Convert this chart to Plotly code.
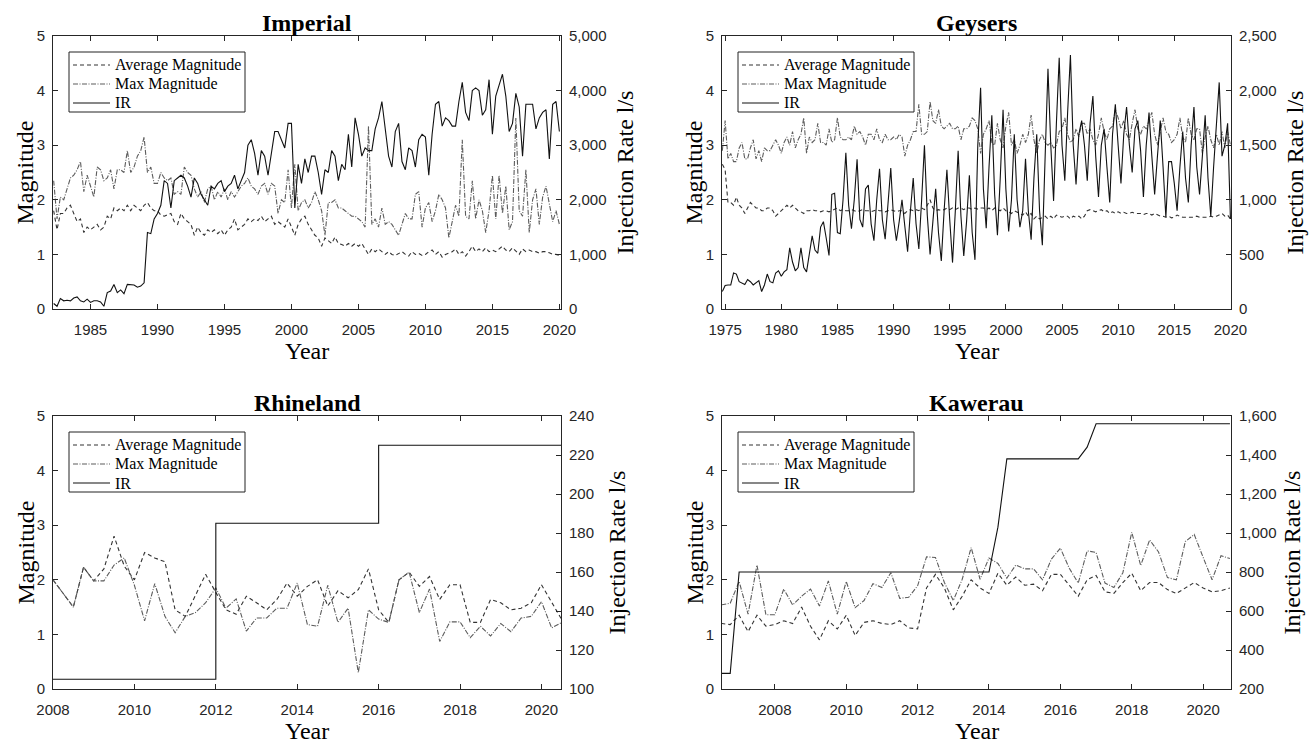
import numpy as np
import plotly.graph_objects as go

# ---------------------------------------------------------------
# Imperial: quarterly series starting 1982 Q2
# ---------------------------------------------------------------
imperial_start = 1982.25
imperial_avg = [
    1.8, 1.45, 1.75,
    1.75, 1.85, 1.9, 1.75,
    1.6, 1.65, 1.4, 1.5,
    1.45, 1.5, 1.55, 1.45,
    1.5, 1.7, 1.65, 1.85,
    1.8, 1.85, 1.8, 1.9,
    1.8, 1.9, 1.85, 1.8,
    1.9, 1.95, 1.85, 1.8,
    1.8, 1.72, 1.7, 1.72,
    1.75, 1.6, 1.55, 1.75,
    1.65, 1.6, 1.55, 1.35,
    1.5, 1.4, 1.35, 1.45,
    1.4, 1.45, 1.38, 1.45,
    1.35, 1.45, 1.5, 1.65,
    1.45, 1.5, 1.55, 1.65,
    1.6, 1.65, 1.62, 1.7,
    1.6, 1.65, 1.7, 1.55,
    1.6, 1.55, 1.5, 1.65,
    1.5, 1.35, 1.55, 1.65,
    1.7, 1.55, 1.45, 1.35,
    1.3, 1.15, 1.3, 1.25,
    1.2, 1.32, 1.2, 1.18,
    1.15, 1.2, 1.15, 1.2,
    1.15, 1.2, 1.1, 1.0,
    1.1, 1.05, 1.1, 1.05,
    1.0, 1.05, 1.0, 0.98,
    1.02, 1.05, 1.0, 0.97,
    1.05, 1.0, 1.02, 0.98,
    1.0, 1.05, 1.08, 1.0,
    1.05, 0.95, 1.0, 1.02,
    1.05, 1.1, 1.0, 1.05,
    0.97, 1.05, 1.15, 1.05,
    1.1, 1.05, 1.12, 1.05,
    1.08, 1.05, 1.1, 1.15,
    1.08, 1.05, 1.12, 1.05,
    1.0, 1.1, 1.05, 1.08,
    1.05, 1.05, 1.02, 1.05,
    1.05, 1.03, 1.0, 1.0,
    0.98,
]
imperial_max = [
    2.35, 1.65, 2.05,
    2.0, 2.2, 2.4, 2.45,
    2.55, 2.7, 2.15, 2.45,
    2.25, 2.05, 2.6, 2.55,
    2.35, 2.4, 2.55, 2.2,
    2.55, 2.55, 2.5, 2.9,
    2.5, 2.6, 2.8, 2.9,
    3.15, 2.5, 2.6, 2.3,
    2.3, 2.5, 2.4, 2.35,
    2.4, 2.1, 2.15, 2.1,
    2.6, 2.5, 2.45, 2.2,
    2.05, 2.15, 1.95, 2.2,
    2.25, 2.0, 2.15, 2.05,
    2.2, 2.0, 2.15, 2.05,
    2.15, 2.25, 2.3, 2.4,
    2.25, 2.2, 2.1, 2.25,
    2.3, 2.1, 2.3, 2.25,
    1.75, 2.0, 1.95, 2.55,
    1.85, 2.65, 1.8, 1.95,
    2.0, 1.85, 1.95, 2.15,
    2.0, 1.8, 1.35, 1.95,
    1.95, 2.0, 1.85, 1.85,
    1.8, 1.75, 1.7, 1.7,
    1.65, 1.6, 1.5, 3.35,
    1.55, 1.65, 1.5, 1.85,
    1.55, 1.6, 1.55, 1.45,
    1.35, 1.55, 1.75, 1.65,
    1.65, 2.1, 2.15, 1.5,
    1.85, 1.95, 1.6, 1.8,
    2.1, 2.0, 1.85, 1.3,
    1.6, 1.9, 1.7, 3.1,
    1.7, 1.65, 2.35, 1.65,
    2.0, 1.8, 1.4, 1.8,
    2.45, 1.65, 2.45, 1.75,
    2.25, 1.45, 1.6, 3.5,
    1.8, 1.7, 2.55, 1.4,
    2.0, 2.2, 1.55, 2.05,
    2.25, 1.9, 1.6, 1.8,
    1.55,
]
imperial_ir = [
    100, 50, 190,
    150, 160, 150, 200,
    220, 150, 130, 180,
    120, 150, 150, 130,
    50, 300, 330, 450,
    300, 350, 280, 450,
    450, 440, 400, 420,
    480, 1400, 1380, 1650,
    1750, 1900, 2350, 2300,
    1850, 2350, 2400, 2450,
    2400, 2250, 2050, 2400,
    2300, 2100, 2000, 1900,
    2250, 2200, 2300, 2350,
    2150, 2250, 2300, 2450,
    2200, 2350, 2500, 3000,
    3100, 2850, 2450, 2900,
    2800, 2450, 2850, 3250,
    3250, 3100, 2950, 3400,
    3400, 1850, 2650, 2300,
    2750, 2500, 2800, 2800,
    2500, 2100, 2550, 2500,
    2900, 2800, 2350, 2650,
    2550, 3200, 2600, 3500,
    3200, 2800, 2950, 2900,
    2900, 3300, 3500, 3800,
    3300, 2800, 2600, 3250,
    3400, 2700, 2550, 2950,
    2900, 2600, 3100, 3200,
    3150, 2450, 3200, 3750,
    3800, 3350, 3500, 3450,
    3350, 3350, 3800, 4150,
    3600, 3450, 4000, 4050,
    4000, 3550, 3650, 4200,
    3200, 3900, 4100, 4300,
    3900, 3250, 3400, 3950,
    3700, 2800, 3750, 3750,
    3750, 3300, 3500, 3600,
    3650, 2750, 3750, 3800,
    3250,
]

# ---------------------------------------------------------------
# Geysers: quarterly series starting 1974 Q4
# ---------------------------------------------------------------
geysers_start = 1974.75
geysers_avg = [
    2.65,
    2.55, 1.95, 1.95, 1.9,
    2.05, 1.9, 1.85, 1.75,
    1.85, 1.95, 1.9, 1.85,
    1.85, 1.8, 1.8, 1.85,
    1.85, 1.8, 1.7, 1.75,
    1.8, 1.85, 1.9, 1.85,
    1.9, 1.85, 1.8, 1.78,
    1.75, 1.8, 1.8, 1.82,
    1.8, 1.8, 1.78, 1.8,
    1.8, 1.78, 1.8, 1.82,
    1.85, 1.8, 1.82, 1.8,
    1.8, 1.82, 1.8, 1.78,
    1.8, 1.82, 1.8, 1.8,
    1.78, 1.8, 1.82, 1.8,
    1.8, 1.78, 1.8, 1.82,
    1.8, 1.78, 1.8, 1.8,
    1.75, 1.8, 1.82, 1.8,
    1.82, 1.8, 1.85, 1.82,
    1.9, 2.0, 1.85, 1.8,
    1.82, 1.8, 1.82, 1.85,
    1.82, 1.85, 1.82, 1.85,
    1.85, 1.82, 1.85, 1.85,
    1.82, 1.85, 1.83, 1.85,
    1.85, 1.82, 1.85, 1.8,
    1.85, 1.82, 1.8, 1.85,
    1.8, 1.78, 1.75, 1.8,
    1.78, 1.75, 1.72, 1.78,
    1.7, 1.75, 1.65, 1.7,
    1.65, 1.68, 1.7, 1.65,
    1.7, 1.65, 1.72, 1.7,
    1.68, 1.7, 1.7, 1.65,
    1.7, 1.68, 1.7, 1.65,
    1.7, 1.8, 1.82, 1.8,
    1.78, 1.8, 1.82, 1.78,
    1.8, 1.75, 1.78, 1.75,
    1.78, 1.75, 1.77, 1.75,
    1.75, 1.77, 1.75, 1.75,
    1.75, 1.73, 1.75, 1.75,
    1.72, 1.75, 1.72, 1.7,
    1.7, 1.68, 1.7, 1.67,
    1.68, 1.72, 1.7, 1.68,
    1.68, 1.68, 1.68, 1.68,
    1.7, 1.68, 1.68, 1.68,
    1.68, 1.7, 1.68, 1.7,
    1.72, 1.75, 1.7, 1.72,
    1.65,
]
geysers_max = [
    2.9,
    3.45, 2.75, 2.85, 2.7,
    2.7, 2.95, 3.05, 2.75,
    2.75, 2.95, 3.1, 2.75,
    2.9, 2.7, 2.95, 2.9,
    2.9, 3.0, 3.1, 3.0,
    2.85, 3.05, 3.15, 3.0,
    3.25, 2.95, 3.1, 3.2,
    3.5, 2.85, 3.15, 3.05,
    3.1, 3.4, 3.05, 3.05,
    3.0, 3.3, 3.05, 3.1,
    3.5, 3.15, 3.1, 3.1,
    3.15, 3.1, 3.35, 3.2,
    3.25, 3.15, 3.0, 3.2,
    3.2, 3.1, 3.3, 3.1,
    3.05, 3.2, 3.1, 3.1,
    3.15, 3.1, 3.2, 3.15,
    2.8, 3.0, 3.1, 3.25,
    3.25, 3.75, 3.2, 3.2,
    3.25, 3.8, 3.45, 3.4,
    3.65, 3.35, 3.3, 3.35,
    3.4, 3.3, 3.3, 3.35,
    3.1, 3.3, 3.3, 3.35,
    3.5, 3.45, 3.3, 2.85,
    3.2, 3.3, 3.45, 3.05,
    3.0, 3.4, 3.1, 2.95,
    3.35, 3.6, 3.0, 3.1,
    2.85, 3.0, 3.2, 3.05,
    3.2, 3.55, 3.1, 2.85,
    3.1, 3.2, 3.05, 3.0,
    3.05, 2.95, 3.0, 3.25,
    3.3, 3.5, 3.2, 3.05,
    3.1, 3.3, 3.15, 3.4,
    3.4, 3.2, 3.3, 3.1,
    3.0, 3.2, 3.5, 3.25,
    3.1, 3.3, 3.35, 3.65,
    3.5, 3.3, 3.45, 3.2,
    3.1, 3.4, 3.65, 3.3,
    3.2, 3.35, 3.3, 3.45,
    3.6, 3.2, 3.0, 3.25,
    3.5, 3.25, 3.2, 3.05,
    3.1, 3.2, 3.5, 3.15,
    3.05, 3.5, 3.2, 3.1,
    3.3, 3.3, 2.85, 3.15,
    3.35, 3.1, 2.95, 3.2,
    3.0, 3.25, 2.95, 3.25,
    3.0,
]
geysers_ir = [
    160,
    215, 220, 220, 330,
    320, 250, 240, 225,
    270, 250, 220, 240,
    260, 160, 220, 320,
    250, 240, 330, 350,
    300, 340, 360, 560,
    430, 350, 380, 560,
    380, 340, 530, 670,
    540, 510, 750, 800,
    650, 490, 1050, 1060,
    700, 690, 1000, 1430,
    950, 735, 1000, 1370,
    820, 750, 1100, 1135,
    780, 625, 1000, 1285,
    820, 640, 960, 1290,
    820, 625, 800, 1000,
    760, 525, 900, 1200,
    780, 550, 1000, 1500,
    860, 500, 800, 1100,
    700, 440, 900, 1275,
    820, 425, 900, 1450,
    850, 485, 800, 1225,
    700, 450, 1500, 2025,
    1100, 740, 1300, 1775,
    1050, 675, 1200, 1825,
    1100, 710, 1000, 1600,
    1000, 750, 900, 1375,
    900, 635, 1200, 1600,
    900, 585, 1400, 2200,
    1500, 990, 1700, 2300,
    1500, 1175, 1800, 2325,
    1500, 1140, 1600, 1725,
    1500, 1175, 1700, 1950,
    1400, 1025, 1500, 1650,
    1300, 975, 1600, 1875,
    1500, 1150, 1600, 1850,
    1500, 1250, 1650, 1725,
    1450, 1025, 1500, 1800,
    1400, 1050, 1400, 1725,
    1300, 840, 1350, 1350,
    1150, 900, 1300, 1625,
    1200, 975, 1500, 1850,
    1300, 1050, 1400, 1775,
    1200, 850, 1300, 1700,
    2075, 1400, 1500, 1700,
    825,
]

# ---------------------------------------------------------------
# Rhineland: quarterly series starting 2008 Q1
# ---------------------------------------------------------------
rhineland_start = 2008.0
rhineland_avg = [
    2.0, 1.75, 1.5, 2.23,
    1.98, 2.2, 2.8, 2.25,
    2.0, 2.5, 2.4, 2.33,
    1.45, 1.33, 1.7, 2.1,
    1.77, 1.45, 1.37, 1.7,
    1.58, 1.45, 1.64, 1.94,
    1.7, 1.88, 2.0, 1.52,
    1.8, 1.67, 1.82, 2.2,
    1.45, 1.22, 2.0, 2.14,
    1.88, 2.06, 1.64, 1.91,
    1.91, 1.22, 1.22, 1.64,
    1.58, 1.45, 1.48, 1.58,
    1.91, 1.58, 1.27,
]
rhineland_max = [
    2.0, 1.75, 1.5, 2.23,
    1.98, 1.98, 2.27, 2.4,
    1.9, 1.25, 1.93, 1.33,
    1.03, 1.33, 1.4, 1.58,
    1.85, 1.48, 1.65, 1.06,
    1.3, 1.3, 1.48, 1.48,
    1.94, 1.18, 1.15, 1.9,
    1.22, 1.48, 0.3, 1.45,
    1.28, 1.22, 2.0, 2.14,
    1.4, 1.83, 0.87, 1.23,
    1.23, 0.94, 1.15, 0.97,
    1.2, 1.05, 1.3, 1.33,
    1.6, 1.12, 1.22,
]
# injection rate changes stepwise
rhineland_ir_years = [2008.0, 2012.0, 2016.0, 2020.5]
rhineland_ir = [105, 185, 225, 225]

# ---------------------------------------------------------------
# Kawerau: quarterly series starting 2006 Q3
# ---------------------------------------------------------------
kawerau_start = 2006.5
kawerau_avg = [
    1.2, 1.18,
    1.35, 1.05, 1.35, 1.15,
    1.18, 1.25, 1.2, 1.5,
    1.15, 0.9, 1.25, 1.1,
    1.35, 0.98, 1.22, 1.25,
    1.2, 1.18, 1.25, 1.12,
    1.1, 1.85, 2.1, 1.85,
    1.45, 1.7, 2.0, 1.85,
    1.75, 2.12, 1.9, 2.05,
    1.9, 1.92, 1.8, 2.1,
    2.1, 1.9, 1.7, 2.0,
    2.08, 1.78, 1.75, 1.95,
    2.12, 1.8, 1.95, 1.95,
    1.82, 1.75, 1.85, 1.95,
    1.85, 1.78, 1.8, 1.85,
]
kawerau_max = [
    1.54, 1.57,
    1.97, 1.37, 2.27, 1.36,
    1.36, 1.83, 1.54, 1.7,
    1.83, 1.52, 1.98, 1.37,
    1.97, 1.49, 1.62, 1.93,
    1.86, 2.13, 1.66, 1.68,
    1.89, 2.42, 2.41, 1.95,
    1.62, 2.01, 2.59, 2.01,
    2.4, 2.3, 2.03, 2.27,
    2.2, 2.2, 2.0, 2.38,
    2.58, 2.21, 1.94, 2.53,
    2.5, 1.94, 1.86, 2.13,
    2.87, 2.26, 2.73, 2.51,
    2.04, 2.0, 2.7, 2.83,
    2.41, 2.0, 2.44, 2.39,
]
kawerau_ir = [
    280, 280,
    800, 800, 800, 800,
    800, 800, 800, 800,
    800, 800, 800, 800,
    800, 800, 800, 800,
    800, 800, 800, 800,
    800, 800, 800, 800,
    800, 800, 800, 800,
    800, 1030, 1380, 1380,
    1380, 1380, 1380, 1380,
    1380, 1380, 1380, 1440,
    1560, 1560, 1560, 1560,
    1560, 1560, 1560, 1560,
    1560, 1560, 1560, 1560,
    1560, 1560, 1560, 1560,
]

legend_labels = ["Average Magnitude", "Max Magnitude", "IR"]

# ---------------------------------------------------------------
# Layout geometry and styles
# ---------------------------------------------------------------
W, H = 1310, 744
COL_X = [(53, 561), (722, 1231)]      # plot-area left/right edges (px)
ROW_Y = [(36, 309), (416, 689)]       # plot-area top/bottom edges (px)

AXIS_COLOR = "#262626"
TICK_FONT = dict(family="Liberation Sans, Arial, sans-serif", size=15, color=AXIS_COLOR)
SERIF = "Liberation Serif, Times New Roman, serif"

AVG_STYLE = dict(color="#333333", width=1.1, dash="4px,3px")
MAX_STYLE = dict(color="#5c5c5c", width=1.1, dash="5px,1.5px,1px,1.5px")
IR_STYLE = dict(color="#111111", width=1.1)
LINE_STYLES = [AVG_STYLE, MAX_STYLE, IR_STYLE]


def quarters(start, values):
    return start + 0.25 * np.arange(len(values))


def px(x):
    return x / W


def py(y):
    return 1 - y / H


panels = [
    dict(title="Imperial", col=0, row=0,
         x_range=[1982.2, 2020.12], x_ticks=list(range(1985, 2021, 5)),
         y2_range=[0, 5000], y2_ticks=list(range(0, 5001, 1000)),
         avg=(quarters(imperial_start, imperial_avg), imperial_avg),
         mx=(quarters(imperial_start, imperial_max), imperial_max),
         ir=(quarters(imperial_start, imperial_ir), imperial_ir), ir_shape="linear",
         y2_title_dx=64),
    dict(title="Geysers", col=1, row=0,
         x_range=[1974.72, 2020.05], x_ticks=list(range(1975, 2021, 5)),
         y2_range=[0, 2500], y2_ticks=list(range(0, 2501, 500)),
         avg=(quarters(geysers_start, geysers_avg), geysers_avg),
         mx=(quarters(geysers_start, geysers_max), geysers_max),
         ir=(quarters(geysers_start, geysers_ir), geysers_ir), ir_shape="linear",
         y2_title_dx=64),
    dict(title="Rhineland", col=0, row=1,
         x_range=[2008.0, 2020.48], x_ticks=list(range(2008, 2021, 2)),
         y2_range=[100, 240], y2_ticks=list(range(100, 241, 20)),
         avg=(quarters(rhineland_start, rhineland_avg), rhineland_avg),
         mx=(quarters(rhineland_start, rhineland_max), rhineland_max),
         ir=(rhineland_ir_years, rhineland_ir), ir_shape="hv",
         y2_title_dx=55),
    dict(title="Kawerau", col=1, row=1,
         x_range=[2006.52, 2020.78], x_ticks=list(range(2008, 2021, 2)),
         y2_range=[200, 1600], y2_ticks=list(range(200, 1601, 200)),
         avg=(quarters(kawerau_start, kawerau_avg), kawerau_avg),
         mx=(quarters(kawerau_start, kawerau_max), kawerau_max),
         ir=(quarters(kawerau_start, kawerau_ir), kawerau_ir), ir_shape="linear",
         y2_title_dx=60),
]

fig = go.Figure()
layout = dict(
    width=W, height=H,
    margin=dict(l=0, r=0, t=0, b=0, autoexpand=False),
    paper_bgcolor="white", plot_bgcolor="white",
    showlegend=False,
)
annotations = []
shapes = []

common_axis = dict(
    showline=True, linecolor=AXIS_COLOR, linewidth=1,
    ticks="inside", ticklen=5, tickcolor=AXIS_COLOR, tickwidth=1,
    showgrid=False, zeroline=False, tickfont=TICK_FONT, automargin=False,
)

for i, p in enumerate(panels):
    n = i + 1
    xl, xr = COL_X[p["col"]]
    yt, yb = ROW_Y[p["row"]]
    xa, ya, ya2 = f"x{n}", f"y{n}", f"y{n + 4}"

    layout[f"xaxis{n}"] = dict(
        common_axis, domain=[px(xl), px(xr)], anchor=ya, range=p["x_range"],
        tickvals=p["x_ticks"], mirror="ticks", ticklabelstandoff=7,
    )
    layout[f"yaxis{n}"] = dict(
        common_axis, domain=[py(yb), py(yt)], anchor=xa, range=[0, 5],
        tickvals=[0, 1, 2, 3, 4, 5], ticklabelstandoff=4,
    )
    layout[f"yaxis{n + 4}"] = dict(
        common_axis, overlaying=ya, anchor=xa, side="right", range=p["y2_range"],
        tickvals=p["y2_ticks"], tickformat=",d", ticklabelstandoff=4,
    )

    fig.add_trace(go.Scatter(
        x=p["avg"][0], y=p["avg"][1], mode="lines", name=legend_labels[0],
        line=AVG_STYLE, xaxis=xa, yaxis=ya))
    fig.add_trace(go.Scatter(
        x=p["mx"][0], y=p["mx"][1], mode="lines", name=legend_labels[1],
        line=MAX_STYLE, xaxis=xa, yaxis=ya))
    fig.add_trace(go.Scatter(
        x=p["ir"][0], y=p["ir"][1], mode="lines", name=legend_labels[2],
        line=dict(IR_STYLE, shape=p["ir_shape"]), xaxis=xa, yaxis=ya2))

    cx = (xl + xr) / 2
    cy = (yt + yb) / 2
    serif_font = dict(family=SERIF, size=24, color="black")
    annotations += [
        dict(text=f"<b>{p['title']}</b>", x=px(cx), y=py(yt - 13)),
        dict(text="Year", x=px(cx), y=py(yb + 42)),
        dict(text="Magnitude", x=px(xl - 28), y=py(cy), textangle=-90),
        dict(text="Injection Rate l/s", x=px(xr + p["y2_title_dx"]), y=py(cy),
             textangle=-90),
    ]
    for a in annotations[-4:]:
        a.update(xref="paper", yref="paper", showarrow=False,
                 xanchor="center", yanchor="middle", font=serif_font)

    # legend box in the upper-left corner of each panel
    bx0, bx1 = xl + 16, xl + 192
    by0, by1 = yt + 16, yt + 76
    shapes.append(dict(
        type="rect", xref="paper", yref="paper", layer="above",
        x0=px(bx0), x1=px(bx1), y0=py(by1), y1=py(by0),
        line=dict(color="#222222", width=1), fillcolor="white"))
    for k, (label, style) in enumerate(zip(legend_labels, LINE_STYLES)):
        ry = by0 + 13 + 19 * k
        shapes.append(dict(
            type="line", xref="paper", yref="paper", layer="above",
            x0=px(bx0 + 4), x1=px(bx0 + 41), y0=py(ry), y1=py(ry),
            line=style))
        annotations.append(dict(
            text=label, x=px(bx0 + 44), y=py(ry), xref="paper", yref="paper",
            showarrow=False, xanchor="left", yanchor="middle",
            font=dict(family=SERIF, size=16, color="black")))

layout["annotations"] = annotations
layout["shapes"] = shapes
fig.update_layout(**layout)

fig.write_html("out.html")
